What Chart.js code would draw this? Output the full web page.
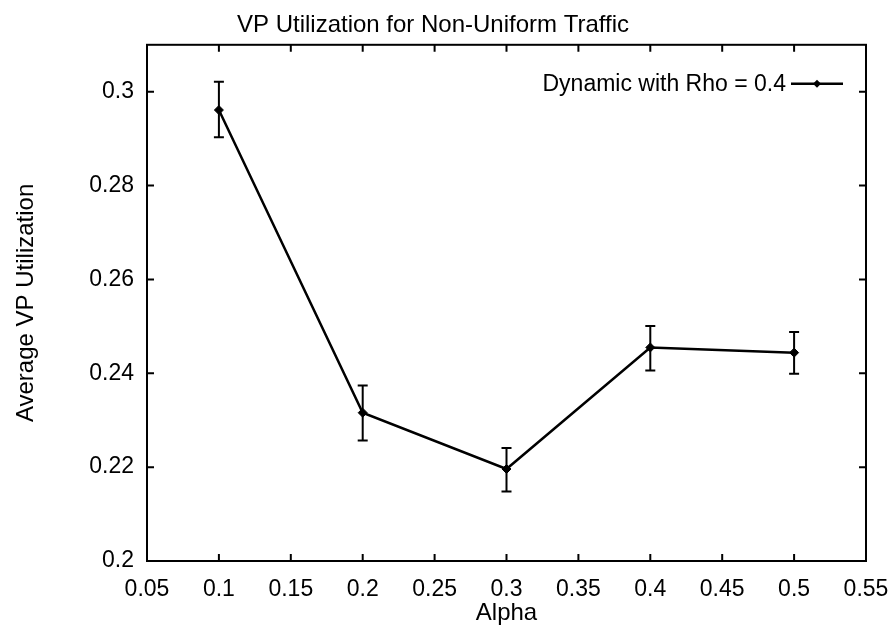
<!DOCTYPE html>
<html lang="en">
<head>
<meta charset="UTF-8" />
<title>VP Utilization for Non-Uniform Traffic</title>
<script src="https://cdn.jsdelivr.net/npm/chart.js"></script>
<style>
  html, body { margin: 0; padding: 0; background: #fff; }
  #caixa { position: relative; width: 894px; height: 632px; }
</style>
</head>
<body>
<div id="caixa"><canvas id="grafico"></canvas></div>

<script>
  // valores
  var alphas = [0.1, 0.2, 0.3, 0.4, 0.5];
  var utilizacao = [0.2961, 0.2316, 0.2196, 0.2455, 0.2444];
  var erroMin = [0.2903, 0.2257, 0.2148, 0.2406, 0.2399];
  var erroMax = [0.3021, 0.2374, 0.2241, 0.2501, 0.2488];
  var ticksX = [0.05, 0.1, 0.15, 0.2, 0.25, 0.3, 0.35, 0.4, 0.45, 0.5, 0.55];
  var ticksY = [0.2, 0.22, 0.24, 0.26, 0.28, 0.3];
  var legenda = "Dynamic with Rho = 0.4";

  var fonte = "'Liberation Sans', Arial, Helvetica, sans-serif";

  var pontos = [];
  for (var i = 0; i < alphas.length; i++) {
    pontos.push({ x: alphas[i], y: utilizacao[i] });
  }

  function rotulo(v) {
    return String(+Number(v).toFixed(2));
  }

  // barras de erro
  var barrasErro = {
    id: "barrasErro",
    afterDatasetsDraw: function (chart) {
      var ctx = chart.ctx;
      var sx = chart.scales.x;
      var sy = chart.scales.y;
      ctx.save();
      ctx.strokeStyle = "#000";
      ctx.lineWidth = 2;
      for (var i = 0; i < alphas.length; i++) {
        var px = sx.getPixelForValue(alphas[i]);
        var y1 = sy.getPixelForValue(erroMin[i]);
        var y2 = sy.getPixelForValue(erroMax[i]);
        ctx.beginPath();
        ctx.moveTo(px, y1);
        ctx.lineTo(px, y2);
        ctx.moveTo(px - 5, y1);
        ctx.lineTo(px + 5, y1);
        ctx.moveTo(px - 5, y2);
        ctx.lineTo(px + 5, y2);
        ctx.stroke();
      }
      ctx.restore();
    },
  };

  // moldura com os ticks para dentro, e a legenda
  var moldura = {
    id: "moldura",
    afterDraw: function (chart) {
      var ctx = chart.ctx;
      var a = chart.chartArea;
      var sx = chart.scales.x;
      var sy = chart.scales.y;
      var tam = 7;
      ctx.save();
      ctx.strokeStyle = "#000";
      ctx.lineWidth = 2;
      ctx.strokeRect(a.left, a.top, a.right - a.left, a.bottom - a.top);
      ctx.beginPath();
      ticksX.forEach(function (v) {
        var px = sx.getPixelForValue(v);
        ctx.moveTo(px, a.bottom);
        ctx.lineTo(px, a.bottom - tam);
        ctx.moveTo(px, a.top);
        ctx.lineTo(px, a.top + tam);
      });
      ticksY.forEach(function (v) {
        var py = sy.getPixelForValue(v);
        ctx.moveTo(a.left, py);
        ctx.lineTo(a.left + tam, py);
        ctx.moveTo(a.right, py);
        ctx.lineTo(a.right - tam, py);
      });
      ctx.stroke();

      // legenda
      var ly = a.top + 39;
      var fimTexto = a.right - 80;
      ctx.fillStyle = "#000";
      ctx.font = "23px " + fonte;
      ctx.textAlign = "right";
      ctx.textBaseline = "middle";
      ctx.fillText(legenda, fimTexto, ly + 1);
      ctx.lineWidth = 2.5;
      ctx.beginPath();
      ctx.moveTo(fimTexto + 5, ly);
      ctx.lineTo(fimTexto + 57, ly);
      ctx.stroke();
      var cx = fimTexto + 31;
      ctx.beginPath();
      ctx.moveTo(cx, ly - 4);
      ctx.lineTo(cx + 4, ly);
      ctx.lineTo(cx, ly + 4);
      ctx.lineTo(cx - 4, ly);
      ctx.closePath();
      ctx.fill();
      ctx.restore();
    },
  };

  new Chart(document.getElementById("grafico"), {
    type: "line",
    data: {
      datasets: [
        {
          label: legenda,
          data: pontos,
          borderColor: "#000",
          backgroundColor: "#000",
          borderWidth: 2.5,
          pointStyle: "rectRot",
          pointRadius: 4.5,
          pointBorderWidth: 1,
          tension: 0,
        },
      ],
    },
    options: {
      responsive: true,
      maintainAspectRatio: false,
      animation: false,
      layout: { padding: { top: 0, right: 28, bottom: 0, left: 0 } },
      plugins: {
        legend: { display: false },
        tooltip: { enabled: false },
        title: {
          display: true,
          text: "VP Utilization for Non-Uniform Traffic",
          color: "#000",
          font: { family: fonte, size: 24, weight: "normal" },
          padding: { top: 11, bottom: 5 },
          align: "center",
        },
      },
      scales: {
        x: {
          type: "linear",
          min: 0.05,
          max: 0.55,
          afterBuildTicks: function (s) {
            s.ticks = ticksX.map(function (v) { return { value: v }; });
          },
          afterFit: function (s) {
            s.height = 71;
            s.paddingLeft = 0;
            s.paddingRight = 0;
          },
          grid: { display: false, drawTicks: false },
          border: { display: false },
          ticks: {
            color: "#000",
            padding: 15,
            maxRotation: 0,
            font: { family: fonte, size: 23 },
            callback: rotulo,
          },
          title: {
            display: true,
            text: "Alpha",
            color: "#000",
            font: { family: fonte, size: 24 },
            padding: { top: 0, bottom: 4 },
          },
        },
        y: {
          type: "linear",
          min: 0.2,
          max: 0.31,
          afterBuildTicks: function (s) {
            s.ticks = ticksY.map(function (v) { return { value: v }; });
          },
          afterFit: function (s) { s.width = 147; },
          grid: { display: false, drawTicks: false },
          border: { display: false },
          ticks: {
            color: "#000",
            padding: 13,
            font: { family: fonte, size: 23 },
            callback: rotulo,
          },
          title: {
            display: true,
            text: "Average VP Utilization",
            color: "#000",
            font: { family: fonte, size: 24 },
            padding: { top: 12, bottom: 0 },
          },
        },
      },
    },
    plugins: [barrasErro, moldura],
  });
</script>
</body>
</html>
